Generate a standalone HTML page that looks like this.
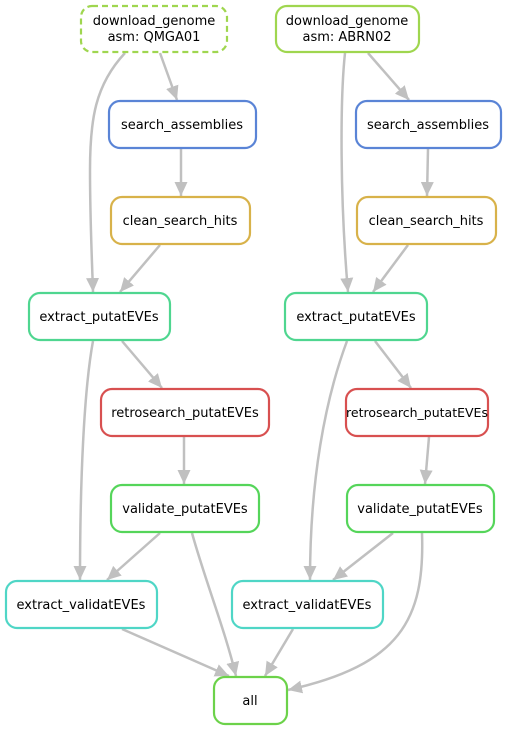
<!DOCTYPE html>
<html><head><meta charset="utf-8"><style>
html,body{margin:0;padding:0;background:#fff;}
svg{display:block;}
text{font-family:"DejaVu Sans","Liberation Sans",sans-serif;font-size:13px;fill:#000;text-anchor:middle;}
</style></head><body>
<svg width="521" height="731" viewBox="0 0 521 731" xmlns="http://www.w3.org/2000/svg">
<defs>
<marker id="a" markerUnits="userSpaceOnUse" markerWidth="16" markerHeight="13" refX="14" refY="6.5" orient="auto">
<path d="M0,0 L14,6.5 L0,13 Z" fill="#c0c0c0"/>
</marker>
</defs>
<g fill="none" stroke="#c0c0c0" stroke-width="2.5" marker-end="url(#a)">
<path d="M125,53 C95,85 90,120 90,170 C90,220 92,260 93,292"/>
<path d="M160,53 L177,100"/>
<path d="M181,149 L181,196"/>
<path d="M160,245 L120,292"/>
<path d="M93,341 C84,390 80,480 80,580"/>
<path d="M122,341 L162,388"/>
<path d="M184,437 L184,484"/>
<path d="M160,533 L107,580"/>
<path d="M192,533 C205,580 225,630 236,676"/>
<path d="M122,629 L229,676"/>
<path d="M345,53 C340,100 340,200 348,292"/>
<path d="M368,53 L409,100"/>
<path d="M428,149 L427,196"/>
<path d="M408,245 L373,292"/>
<path d="M347,341 C325,400 310,480 310,580"/>
<path d="M375,341 L411,388"/>
<path d="M429,437 L425,484"/>
<path d="M393,533 L333,580"/>
<path d="M422,533 C425,620 400,665 288,690"/>
<path d="M293,629 L265,676"/>
</g>
<g fill="none" stroke-width="2.2">
<rect x="81" y="6" width="146" height="46" rx="11" stroke="#9fd64f" stroke-dasharray="6,4"/>
<rect x="276" y="6" width="143" height="46" rx="11" stroke="#9fd64f"/>
<rect x="109" y="101" width="147" height="47" rx="11" stroke="#5a84d6"/>
<rect x="356" y="101" width="145" height="47" rx="11" stroke="#5a84d6"/>
<rect x="111" y="197" width="139" height="47" rx="11" stroke="#d8b24a"/>
<rect x="357" y="197" width="139" height="47" rx="11" stroke="#d8b24a"/>
<rect x="29" y="293" width="141" height="47" rx="11" stroke="#4fd690"/>
<rect x="285" y="293" width="142" height="47" rx="11" stroke="#4fd690"/>
<rect x="101" y="389" width="168" height="47" rx="11" stroke="#d85050"/>
<rect x="346" y="389" width="142" height="47" rx="11" stroke="#d85050"/>
<rect x="111" y="485" width="148" height="47" rx="11" stroke="#55d55a"/>
<rect x="347" y="485" width="147" height="47" rx="11" stroke="#55d55a"/>
<rect x="6" y="581" width="151" height="47" rx="11" stroke="#4fd6c6"/>
<rect x="232" y="581" width="151" height="47" rx="11" stroke="#4fd6c6"/>
<rect x="214" y="677" width="73" height="47" rx="11" stroke="#6cd24a"/>
</g>
<text x="154" y="25">download_genome</text><text x="154" y="41">asm: QMGA01</text>
<text x="347" y="25">download_genome</text><text x="347" y="41">asm: ABRN02</text>
<text x="182" y="129">search_assemblies</text>
<text x="428" y="129">search_assemblies</text>
<text x="180" y="225">clean_search_hits</text>
<text x="426" y="225">clean_search_hits</text>
<text x="99" y="321">extract_putatEVEs</text>
<text x="356" y="321">extract_putatEVEs</text>
<text x="185" y="417">retrosearch_putatEVEs</text>
<text x="417" y="417" style="font-size:12.5px">retrosearch_putatEVEs</text>
<text x="185" y="513">validate_putatEVEs</text>
<text x="420" y="513">validate_putatEVEs</text>
<text x="81" y="609">extract_validatEVEs</text>
<text x="307" y="609">extract_validatEVEs</text>
<text x="250" y="705">all</text>
</svg>
</body></html>
